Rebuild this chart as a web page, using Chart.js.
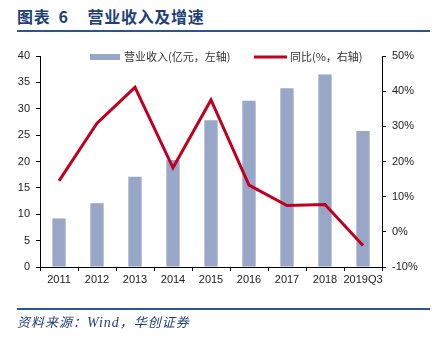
<!DOCTYPE html>
<html><head><meta charset="utf-8">
<script src="https://cdn.jsdelivr.net/npm/chart.js@4"></script>
<style>
html,body{margin:0;padding:0;background:#fff;}
#wrap{position:relative;width:439px;height:340px;overflow:hidden;}
#title{position:absolute;left:17px;top:5px;font-family:"Noto Sans CJK SC";font-weight:bold;font-size:16px;color:#1F3F7A;letter-spacing:0.7px;white-space:nowrap;line-height:22px;}
#title .n{display:inline-block;margin-left:8px;margin-right:19px;}
#hr1{position:absolute;left:17px;top:30px;width:413px;height:2px;background:#2B5592;}
#hr2{position:absolute;left:17px;top:308px;width:413px;height:2px;background:#2B5592;}
#src{position:absolute;left:17px;top:313px;font-family:"Noto Sans CJK SC";font-style:italic;font-size:13px;letter-spacing:1px;color:#1F3F7A;white-space:nowrap;line-height:18px;}
#src span{font-family:"Liberation Serif";font-size:14px;}
canvas{position:absolute;left:0;top:0;}
</style></head>
<body><div id="wrap">
<div id="title">图表<span class="n">6</span>营业收入及增速</div>
<div id="hr1"></div>
<canvas id="c" width="439" height="340"></canvas>
<div id="hr2"></div>
<div id="src">资料来源：<span>Wind</span>，华创证券</div>
</div>
<script>
const categories = ['2011','2012','2013','2014','2015','2016','2017','2018','2019Q3'];
const revenue = [9.2, 12.1, 17.1, 20.3, 27.8, 31.5, 33.9, 36.5, 25.8];
const yoy = [14.5, 30.9, 41.1, 18.2, 37.5, 13.3, 7.5, 7.8, -3.9];
const revenueLabel = '营业收入(亿元，左轴)';
const yoyLabel = '同比(%，右轴)';
const leftTicks = {min:0, max:40, step:5};
const rightTicks = {min:-10, max:50, step:10};

const barColor = '#98A6C8';
const lineColor = '#C00020';
const axisColor = '#000000';
const tickFont = {family:'"Liberation Sans", Arial', size:11};

const legendPlugin = {
  id:'customLegend',
  afterDraw(chart){
    const ctx = chart.ctx;
    ctx.save();
    ctx.font = '11px "Noto Sans CJK SC"';
    ctx.textBaseline = 'middle';
    const y = 57;
    ctx.fillStyle = chart.data.datasets[1].backgroundColor;
    ctx.fillRect(90, y-3, 30, 6);
    ctx.fillStyle = '#333';
    ctx.fillText(chart.data.datasets[1].label, 124, y);
    ctx.strokeStyle = chart.data.datasets[0].borderColor;
    ctx.lineWidth = 3;
    ctx.beginPath(); ctx.moveTo(254, y); ctx.lineTo(287, y); ctx.stroke();
    ctx.fillText(chart.data.datasets[0].label, 290, y);
    ctx.restore();
  }
};

new Chart(document.getElementById('c'), {
  data:{
    labels:categories,
    datasets:[
      {type:'line', label:yoyLabel, data:yoy, yAxisID:'y2', borderColor:lineColor, borderWidth:3, pointRadius:0, tension:0, fill:false, order:0, borderJoinStyle:'miter'},
      {type:'bar', label:revenueLabel, data:revenue, yAxisID:'y', backgroundColor:barColor, categoryPercentage:1, barPercentage:0.35, order:1}
    ]
  },
  options:{
    responsive:false, animation:false,
    layout:{padding:{top:56, bottom:53, left:0, right:0}},
    plugins:{legend:{display:false}, tooltip:{enabled:false}},
    scales:{
      x:{
        offset:true,
        grid:{offset:true, drawOnChartArea:false, drawTicks:true, tickLength:4, color:axisColor},
        border:{color:axisColor, width:1},
        ticks:{font:tickFont, color:'#222', padding:2, maxRotation:0, autoSkip:false},
        afterFit(s){ s.height = 20; }
      },
      y:{
        position:'left', min:leftTicks.min, max:leftTicks.max,
        grid:{drawOnChartArea:false, drawTicks:true, tickLength:4, color:axisColor},
        border:{color:axisColor, width:1},
        ticks:{stepSize:leftTicks.step, font:tickFont, color:'#222', padding:6},
        afterFit(s){ s.width = 40; }
      },
      y2:{
        position:'right', min:rightTicks.min, max:rightTicks.max,
        grid:{drawOnChartArea:false, drawTicks:true, tickLength:4, color:axisColor},
        border:{color:axisColor, width:1},
        ticks:{stepSize:rightTicks.step, font:tickFont, color:'#222', padding:6, callback:v=>v+'%'},
        afterFit(s){ s.width = 57; }
      }
    }
  },
  plugins:[legendPlugin]
});
</script>
</body></html>
